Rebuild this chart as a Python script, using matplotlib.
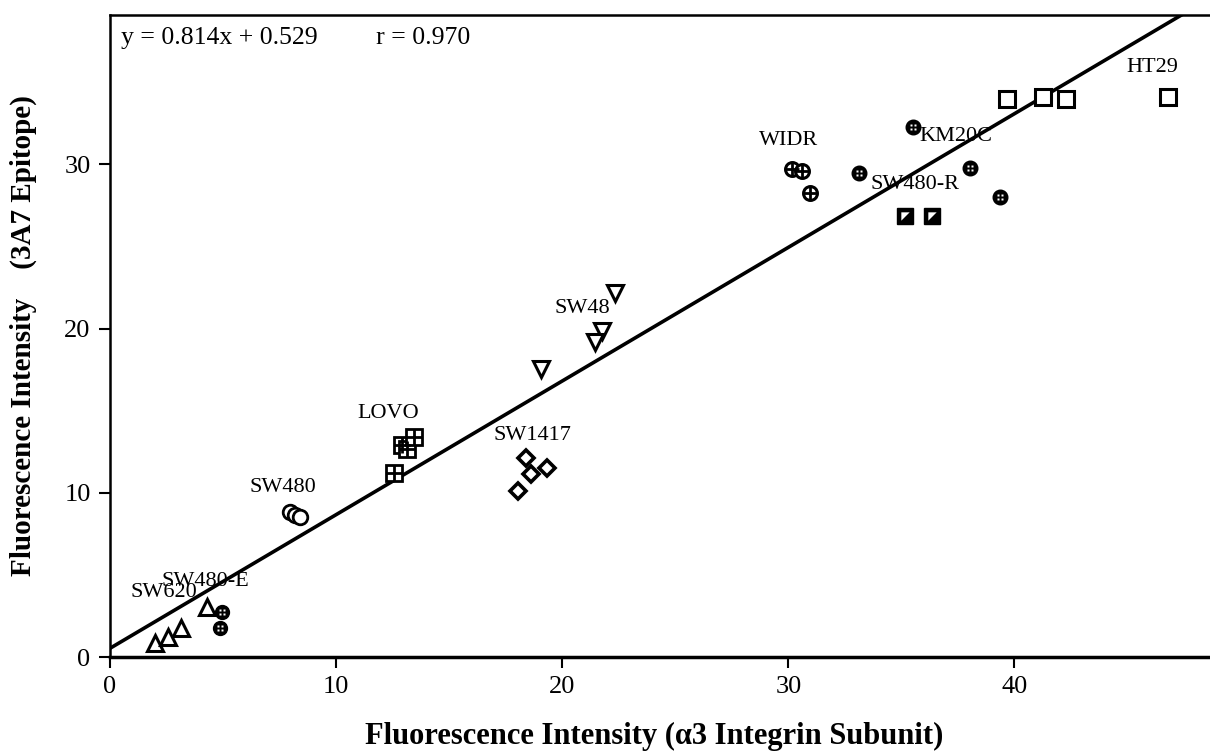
import matplotlib
matplotlib.use("Agg")
import matplotlib.pyplot as plt
import numpy as np
from matplotlib.path import Path

plt.rcParams['font.family'] = ['Liberation Serif', 'DejaVu Serif']

# ---- data ----
sw620_x = [1.99, 2.58, 3.14, 4.31]
sw620_y = [0.83, 1.24, 1.75, 3.06]
sw480e_x = [4.94, 4.87]
sw480e_y = [2.76, 1.77]
sw480_x = [7.96, 8.19, 8.41]
sw480_y = [8.84, 8.64, 8.50]
lovo_x = [12.54, 12.90, 13.13, 13.46]
lovo_y = [11.18, 12.90, 12.64, 13.41]
sw1417_x = [18.41, 18.63, 19.34, 18.05]
sw1417_y = [12.14, 11.17, 11.54, 10.14]
sw48_x = [22.35, 21.77, 21.46, 19.07]
sw48_y = [22.16, 19.85, 19.20, 17.55]
widr_x = [30.18, 30.62, 30.97]
widr_y = [29.75, 29.57, 28.23]
km20c_x = [35.53, 33.14, 38.05, 39.34]
km20c_y = [32.30, 29.45, 29.81, 27.99]
sw480r_x = [35.18, 36.37]
sw480r_y = [26.84, 26.84]
ht29_x = [39.69, 41.28, 42.26, 46.81]
ht29_y = [34.00, 34.12, 34.00, 34.12]

slope, intercept, r_value = 0.814, 0.529, 0.970

labels = ["SW620", "SW480-E", "SW480", "LOVO", "SW1417", "SW48", "WIDR",
          "KM20C", "SW480-R", "HT29"]
label_x = [2.4, 4.2, 7.65, 12.3, 18.7, 20.9, 30.0, 37.4, 35.6, 46.1]
label_y = [3.9, 4.6, 10.3, 14.8, 13.5, 21.2, 31.45, 31.7, 28.8, 35.9]

xticks = [0, 10, 20, 30, 40]
yticks = [0, 10, 20, 30]

# ---- figure ----
fig = plt.figure(figsize=(12.1, 7.53), dpi=100)
ax = fig.add_axes([110/1210, 96/753, 1.0 - 110/1210 + 0.001, (657-15)/753])
ax.set_xlim(0, 48.7)
ax.set_ylim(0, 39.1)

# custom markers
dots = Path.make_compound_path(*[
    Path.unit_rectangle().transformed(
        matplotlib.transforms.Affine2D().scale(0.5).translate(cx - 0.25, cy - 0.25))
    for cx in (-0.45, 0.45) for cy in (-0.45, 0.45)])
tri_ul = [(-1, -1), (-1, 1), (1, 1), (-1, -1)]

k = 'black'
ax.plot(sw620_x, sw620_y, ls='none', marker='^', ms=12, mfc='white', mec=k, mew=2.2, zorder=3)
ax.plot(sw480e_x, sw480e_y, ls='none', marker='o', ms=10, mfc=k, mec=k, zorder=3)
ax.plot(sw480e_x, sw480e_y, ls='none', marker=dots, ms=4, mfc='white', mec='none', zorder=4)
ax.plot(sw480_x, sw480_y, ls='none', marker='o', ms=10.5, mfc='white', mec=k, mew=2.0, zorder=3)
ax.plot(lovo_x, lovo_y, ls='none', marker='s', ms=11, mfc='white', mec=k, mew=2.0, zorder=3)
ax.plot(lovo_x, lovo_y, ls='none', marker='+', ms=11, mec=k, mew=2.0, zorder=4)
ax.plot(sw1417_x, sw1417_y, ls='none', marker='D', ms=8, mfc='white', mec=k, mew=2.6, zorder=3)
ax.plot(sw48_x, sw48_y, ls='none', marker='v', ms=12, mfc='white', mec=k, mew=2.2, zorder=3)
ax.plot(widr_x, widr_y, ls='none', marker='o', ms=10, mfc='white', mec=k, mew=2.2, zorder=3)
ax.plot(widr_x, widr_y, ls='none', marker='+', ms=10, mec=k, mew=2.0, zorder=4)
ax.plot(km20c_x, km20c_y, ls='none', marker='o', ms=10.5, mfc=k, mec=k, zorder=3)
ax.plot(km20c_x, km20c_y, ls='none', marker=dots, ms=4, mfc='white', mec='none', zorder=4)
ax.plot(sw480r_x, sw480r_y, ls='none', marker='s', ms=11, mfc=k, mec=k, zorder=3)
ax.plot(sw480r_x, sw480r_y, ls='none', marker=tri_ul, ms=6, mfc='white', mec='none', zorder=4)
ax.plot(ht29_x, ht29_y, ls='none', marker='s', ms=12, mfc='white', mec=k, mew=2.2, zorder=3)

# regression line
xl = np.array([0, 48.7])
ax.plot(xl, slope * xl + intercept, color=k, lw=2.6, zorder=2, solid_capstyle='butt')

for t, lx, ly in zip(labels, label_x, label_y):
    ax.text(lx, ly, t, fontsize=16, ha='center', va='center', zorder=5)

ax.text(0.5, 37.7, f"y = {slope:.3f}x + {intercept:.3f}         r = {r_value:.3f}",
        fontsize=18.5, ha='left', va='center')

ax.set_xticks(xticks)
ax.set_yticks(yticks)
ax.tick_params(direction='out', length=8, width=1.5, labelsize=19, pad=6)
for s in ['left', 'top']:
    ax.spines[s].set_linewidth(1.8)
ax.spines['bottom'].set_linewidth(2.5)
ax.spines['right'].set_visible(False)

fig.text(0.5 + 110/1210/2 - 0.005, 0.002, "Fluorescence Intensity (\u03b13 Integrin Subunit)",
         fontsize=22, fontweight='bold', ha='center', va='bottom')
fig.text(0.019, (753 - 336) / 753, "Fluorescence Intensity    (3A7 Epitope)",
         fontsize=21, fontweight='bold', ha='center', va='center', rotation=90)

fig.savefig("out.png", dpi=100)
